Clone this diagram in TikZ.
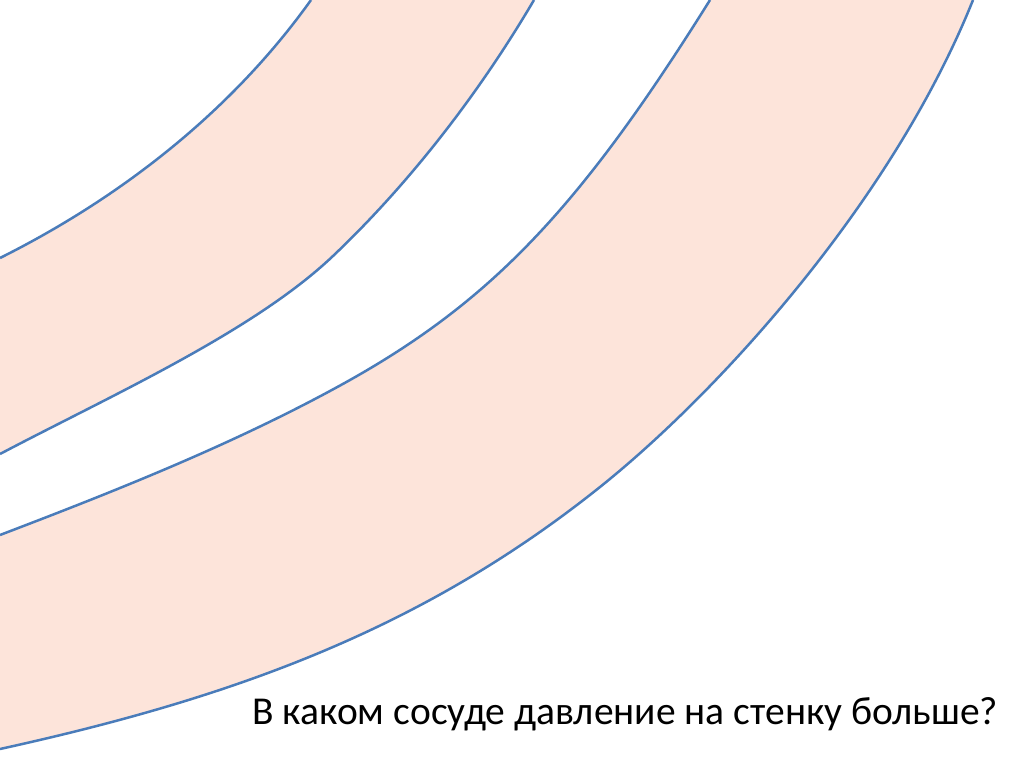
\documentclass[tikz,border=0pt]{standalone}
\usepackage{fontspec}
\setmainfont{Carlito}
\definecolor{bandpink}{RGB}{253,228,218}
\definecolor{edgeblue}{RGB}{74,124,186}

\begin{document}
\begin{tikzpicture}[
    x=1pt, y=-1pt,
    band/.style={fill=bandpink, draw=none},
    wall/.style={draw=edgeblue, line width=2.5pt},
    question/.style={font=\fontsize{39.5}{47}\selectfont, anchor=base west, inner sep=0pt},
]
% ============================================================
% canvas
% ============================================================
\useasboundingbox (0,0) rectangle (1024,767);
\fill[white] (0,0) rectangle (1024,767);
% --- edge points of the two walls of each vessel ---
\coordinate (a0) at (0,258);   \coordinate (a1) at (311,0);
\coordinate (b0) at (0,454);   \coordinate (bm) at (333,256);  \coordinate (b1) at (534,0);
\coordinate (c0) at (0,535);   \coordinate (cm) at (341,385);  \coordinate (c1) at (710,0);
\coordinate (d0) at (0,749);   \coordinate (dm) at (600,487);  \coordinate (d1) at (973,0);
% ============================================================
% vessel 1: narrow curved band (upper left)
% ============================================================
\fill[band] (a0) .. controls (120,198) and (231,112) .. (a1) -- (b1)
    .. controls (474,102) and (403,189.5) .. (bm)
    .. controls (253,332) and (110,396) .. (b0) -- cycle;
\draw[wall] (a0) .. controls (120,198) and (231,112) .. (a1);
\draw[wall] (b0) .. controls (110,396) and (253,332) .. (bm)
    .. controls (403,189.5) and (474,102) .. (b1);
% ============================================================
% vessel 2: wide curved band
% ============================================================
\fill[band] (c0) .. controls (110,493) and (231,445.5) .. (cm)
    .. controls (491,302.5) and (580,208) .. (c1) -- (d1)
    .. controls (893,200) and (720,391) .. (dm)
    .. controls (420,631) and (230,698.4) .. (d0) -- cycle;
\draw[wall] (c0) .. controls (110,493) and (231,445.5) .. (cm)
    .. controls (491,302.5) and (580,208) .. (c1);
\draw[wall] (d0) .. controls (230,698.4) and (420,631) .. (dm)
    .. controls (720,391) and (893,200) .. (d1);
% --- question ---
\node[question] (ask) at (252,724) {В каком сосуде давление на стенку больше?};
\end{tikzpicture}
\end{document}
